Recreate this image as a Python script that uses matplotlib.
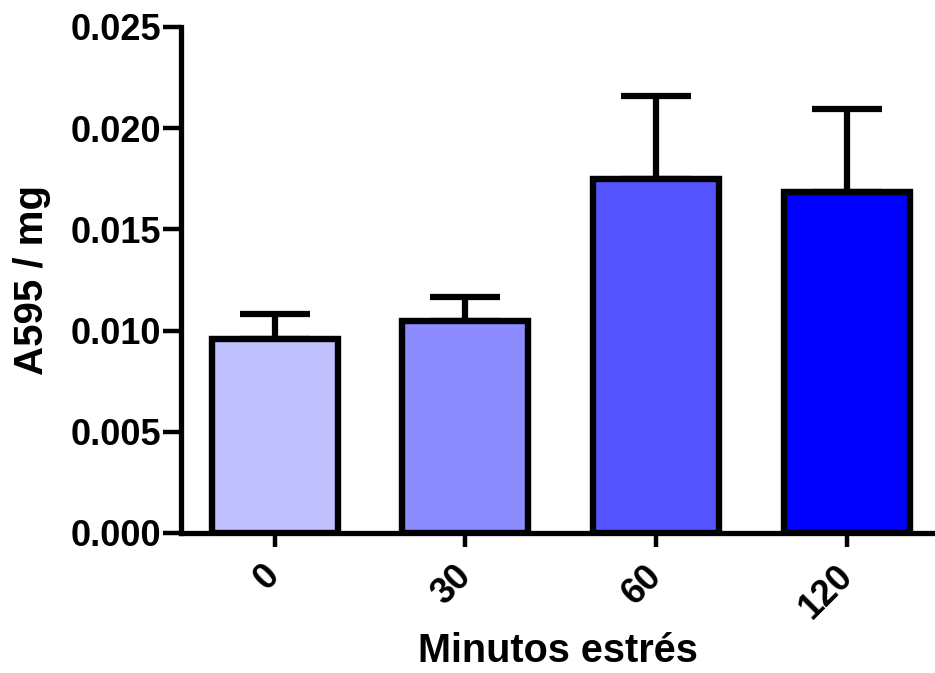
import matplotlib
matplotlib.use('Agg')
import matplotlib.pyplot as plt
import matplotlib.transforms as mtransforms
import numpy as np

# minutes of stress and measured A595/mg (mean, upper error)
categories = ['0', '30', '60', '120']
means = [0.00958, 0.01047, 0.01749, 0.01685]
errors = [0.00124, 0.00119, 0.00410, 0.00410]
colors = ['#C0C0FF', '#8C8CFF', '#5555FF', '#0000FF']

plt.rcParams['font.family'] = ['Liberation Sans', 'DejaVu Sans']
plt.rcParams['font.weight'] = 'bold'

fig = plt.figure(figsize=(9.35, 6.73), dpi=100)
ax = fig.add_axes([181 / 935, 140 / 673, 1 - 181 / 935, 506 / 673])

x = np.arange(len(categories))
ax.bar(x, means, width=0.66, color=colors, edgecolor='black',
       linewidth=4.6, zorder=3)
ax.errorbar(x, means, yerr=[np.zeros(len(means)), errors], fmt='none',
            ecolor='black', elinewidth=4.5, capsize=25, capthick=4.5, zorder=2)

ax.set_xlim(-0.49, 3.46)
ax.set_ylim(0, 0.025)
ax.set_yticks(np.arange(0, 0.0251, 0.005))
ax.set_yticklabels(['%.3f' % v for v in np.arange(0, 0.0251, 0.005)])
ax.set_xticks(x)
ax.set_xticklabels(categories, rotation=45, ha='right', va='center',
                   rotation_mode='anchor')

# nudge rotated labels a little to the right
shift = mtransforms.ScaledTranslation(5 / 100, 0, fig.dpi_scale_trans)
for lab in ax.get_xticklabels():
    lab.set_transform(lab.get_transform() + shift)

for side in ['top', 'right']:
    ax.spines[side].set_visible(False)
for side in ['left', 'bottom']:
    ax.spines[side].set_linewidth(3.8)
ax.tick_params(axis='both', width=3.2, labelsize=26)
ax.tick_params(axis='x', length=10, pad=17)
ax.tick_params(axis='y', length=13, pad=1.5)

ax.set_xlabel('Minutos estrés', fontsize=28.5, fontweight='bold', labelpad=5)
ax.set_ylabel('A595 / mg', fontsize=29, fontweight='bold', labelpad=14)

fig.savefig('out.png', dpi=100)
